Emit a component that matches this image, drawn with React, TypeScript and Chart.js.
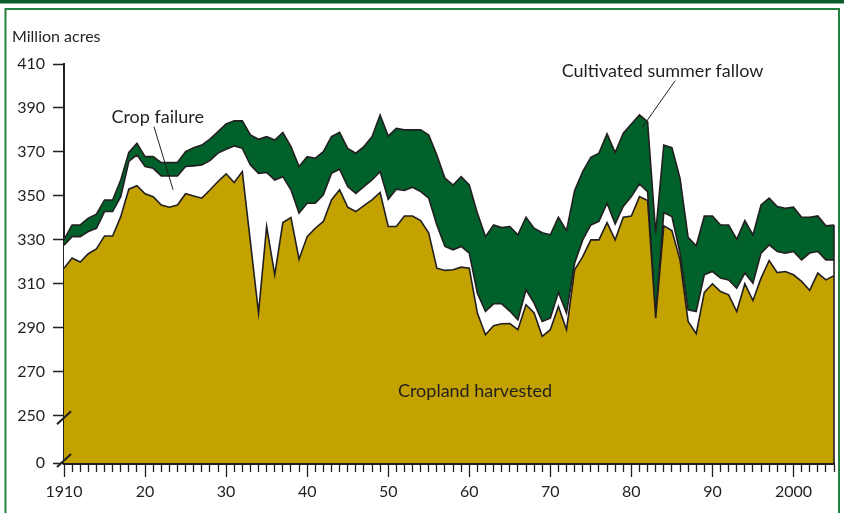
import React, { useEffect, useRef } from 'react';
import { Chart, registerables } from 'chart.js';

Chart.register(...registerables);

// ---- Data -------------------------------------------------------------
const years: number[] = Array.from({ length: 96 }, (_, i) => 1910 + i); // 1910..2005

// Million acres
const harvested = [
  317.0, 321.6, 319.8, 323.6, 325.8, 331.7, 331.7, 340.5, 353.0, 354.6,
  350.9, 349.6, 345.8, 344.8, 345.8, 350.9, 349.9, 348.9, 352.6, 356.5,
  360.0, 356.0, 361.0, 329.0, 296.6, 336.0, 314.0, 337.8, 340.1, 321.1,
  331.4, 335.2, 338.3, 348.1, 352.7, 344.8, 342.8, 345.5, 348.1, 351.5,
  336.0, 336.0, 340.8, 340.8, 338.7, 333.0, 317.0, 316.0, 316.3, 317.5,
  317.0, 296.6, 286.7, 290.8, 291.7, 291.8, 289.0, 300.4, 296.6, 286.0,
  289.0, 299.6, 289.0, 316.3, 322.3, 329.9, 329.9, 337.8, 329.9, 340.2,
  340.8, 349.6, 347.8, 294.3, 336.3, 334.2, 320.8, 292.8, 287.2, 306.0,
  309.9, 306.4, 304.9, 297.3, 309.9, 302.3, 312.5, 320.5, 315.0, 315.5,
  314.0, 311.0, 306.9, 314.8, 311.7, 313.6,
];

const cropFailure = [
  10.5, 9.8, 11.6, 10.1, 9.4, 11.1, 11.1, 9.1, 12.6, 14.0,
  12.4, 12.9, 13.2, 14.2, 13.2, 12.4, 13.7, 15.1, 13.4, 12.9,
  11.2, 16.7, 10.6, 35.0, 63.6, 24.6, 43.2, 20.9, 12.6, 21.0,
  15.2, 11.4, 12.1, 12.1, 9.4, 9.4, 8.3, 8.7, 9.1, 9.5,
  12.4, 17.0, 11.6, 13.1, 13.2, 15.9, 19.7, 10.9, 9.1, 9.4,
  6.9, 9.0, 10.6, 10.0, 9.1, 5.7, 4.5, 6.8, 4.5, 6.8,
  5.3, 6.4, 7.6, 3.0, 7.6, 6.8, 8.4, 8.8, 7.3, 4.9,
  8.8, 5.8, 4.1, 1.2, 6.1, 6.3, 3.1, 5.3, 10.1, 8.0,
  5.6, 6.1, 6.8, 10.6, 4.9, 7.9, 11.4, 7.1, 9.6, 8.4,
  10.6, 9.8, 17.0, 9.8, 9.1, 7.2,
];

const summerFallow = [
  2.5, 5.3, 5.3, 6.1, 6.4, 5.3, 5.3, 7.6, 4.1, 5.3,
  4.5, 5.3, 6.1, 6.1, 6.1, 6.8, 8.3, 9.1, 9.8, 9.8,
  11.5, 11.4, 12.5, 13.7, 15.5, 16.3, 18.2, 20.1, 19.7, 21.2,
  21.2, 20.5, 19.7, 16.7, 16.8, 17.4, 18.3, 18.2, 19.7, 25.8,
  28.8, 27.7, 27.6, 26.1, 28.1, 28.8, 31.9, 31.1, 29.5, 31.8,
  31.0, 36.5, 34.1, 35.9, 34.7, 38.5, 38.7, 33.0, 34.1, 40.4,
  37.9, 34.2, 37.5, 33.1, 31.1, 30.8, 31.1, 31.6, 32.5, 33.4,
  33.1, 31.4, 31.9, 37.5, 30.7, 31.4, 34.1, 33.0, 29.9, 26.8,
  25.3, 24.2, 25.0, 22.3, 23.9, 22.0, 21.9, 21.3, 20.5, 20.4,
  20.2, 19.4, 16.3, 16.2, 15.5, 15.9,
];

// Axis ticks
const Y_BREAK_MIN = 228.3; // position where "0" sits below the axis break
const yTickValues = [250, 270, 290, 310, 330, 350, 370, 390, 410];
const yTickLabels = ['0', '250', '270', '290', '310', '330', '350', '370', '390', '410'];
const xLabelYears = [1910, 1920, 1930, 1940, 1950, 1960, 1970, 1980, 1990, 2000];
const xLabels = ['1910', '20', '30', '40', '50', '60', '70', '80', '90', '2000'];

// ---- Styles -----------------------------------------------------------
const GOLD = '#C3A200';
const GREEN = '#00612A';
const INK = '#231F20';
const FONT = 'Lato, "Open Sans", sans-serif';

const decoPlugin = {
  id: 'deco',
  beforeDraw(chart: any) {
    const { ctx, width, height } = chart;
    ctx.save();
    ctx.fillStyle = '#ffffff';
    ctx.fillRect(0, 0, width, height);
    ctx.fillStyle = '#0B5A2B';
    ctx.fillRect(0, 0, width, 3.5);
    ctx.strokeStyle = '#23803F';
    ctx.lineWidth = 2;
    ctx.beginPath();
    ctx.moveTo(5.5, height + 5);
    ctx.lineTo(5.5, 9);
    ctx.lineTo(839, 9);
    ctx.lineTo(839, height + 5);
    ctx.stroke();
    ctx.restore();
  },
  afterDatasetsDraw(chart: any) {
    const { ctx, scales } = chart;
    const x = scales.x, y = scales.y;
    const last = years.length - 1;
    const top = harvested[last] + cropFailure[last] + summerFallow[last];
    const px = x.getPixelForValue(years[last]);
    ctx.save();
    ctx.strokeStyle = INK;
    ctx.lineWidth = 1.6;
    ctx.beginPath();
    ctx.moveTo(px, y.getPixelForValue(top));
    ctx.lineTo(px, chart.chartArea.bottom);
    ctx.stroke();
    ctx.restore();
  },
  afterDraw(chart: any) {
    const { ctx, scales } = chart;
    const x = scales.x, y = scales.y;
    ctx.save();
    // axis break marks
    ctx.strokeStyle = INK;
    ctx.lineWidth = 2;
    const ax = chart.chartArea.left;
    [y.getPixelForValue(250) + 2.5, y.getPixelForValue(Y_BREAK_MIN) - 2.5].forEach((py: number) => {
      ctx.beginPath();
      ctx.moveTo(ax - 7, py + 6.5);
      ctx.lineTo(ax + 7, py - 6.5);
      ctx.stroke();
    });

    ctx.fillStyle = INK;
    ctx.textBaseline = 'alphabetic';
    ctx.textAlign = 'left';
    ctx.font = `16px ${FONT}`;
    ctx.fillText('Million acres', 12, 41.5);
    ctx.font = `18px ${FONT}`;
    ctx.fillText('Crop failure', x.getPixelForValue(1915.85), y.getPixelForValue(383.2));
    ctx.fillText('Cultivated summer fallow', x.getPixelForValue(1971.4), y.getPixelForValue(404.3));
    ctx.fillText('Cropland harvested', x.getPixelForValue(1951.2), y.getPixelForValue(258.4));

    // leader lines
    ctx.lineWidth = 1;
    ctx.beginPath();
    ctx.moveTo(x.getPixelForValue(1921.1), y.getPixelForValue(381.5));
    ctx.lineTo(x.getPixelForValue(1923.46), y.getPixelForValue(352.7));
    ctx.moveTo(x.getPixelForValue(1985.4), y.getPixelForValue(402.4));
    ctx.lineTo(x.getPixelForValue(1981.36), y.getPixelForValue(381.2));
    ctx.stroke();
    ctx.restore();
  },
};

function series(values: number[]) {
  return years.map((yr, i) => ({ x: yr, y: values[i] }));
}

export default function App() {
  const ref = useRef<HTMLCanvasElement>(null);
  useEffect(() => {
    if (!ref.current) return;
    Chart.defaults.font.family = FONT;
    const common = {
      borderColor: INK,
      borderWidth: 1.6,
      pointRadius: 0,
      pointHoverRadius: 0,
      tension: 0,
      borderJoinStyle: 'miter' as const,
    };
    const chart = new Chart(ref.current, {
      type: 'line',
      data: {
        datasets: [
          { label: 'Cropland harvested', data: series(harvested), fill: 'origin', backgroundColor: GOLD, ...common },
          { label: 'Crop failure', data: series(cropFailure), fill: '-1', backgroundColor: '#ffffff', ...common },
          { label: 'Cultivated summer fallow', data: series(summerFallow), fill: '-1', backgroundColor: GREEN, ...common },
        ],
      },
      options: {
        animation: false,
        responsive: false,
        devicePixelRatio: 1,
        events: [],
        layout: { padding: { left: 0, top: 64, right: 10, bottom: 0 } },
        plugins: { legend: { display: false }, tooltip: { enabled: false }, title: { display: false } },
        scales: {
          x: {
            type: 'linear',
            min: 1910,
            max: 2005,
            z: 1,
            afterBuildTicks: (s: any) => { s.ticks = years.map((v) => ({ value: v })); },
            afterFit: (s: any) => { s.height = 50; },
            ticks: {
              autoSkip: false,
              maxRotation: 0,
              minRotation: 0,
              padding: 5,
              color: INK,
              font: { size: 16, family: FONT },
              callback: (v: any) => {
                const k = xLabelYears.indexOf(Number(v));
                return k >= 0 ? xLabels[k] : '';
              },
            },
            grid: {
              drawOnChartArea: false,
              drawTicks: true,
              tickLength: 14,
              tickColor: INK,
              tickWidth: 1.3,
              tickBorderDash: (c: any) => (xLabelYears.includes(c.tick?.value) ? [] : [7, 30]),
            },
            border: { display: true, color: INK, width: 3 },
          },
          y: {
            type: 'linear',
            stacked: true,
            min: Y_BREAK_MIN,
            max: 410,
            z: 1,
            afterBuildTicks: (s: any) => { s.ticks = [Y_BREAK_MIN, ...yTickValues].map((v) => ({ value: v })); },
            afterFit: (s: any) => { s.width = 64; },
            ticks: {
              autoSkip: false,
              padding: 8,
              color: INK,
              font: { size: 16, family: FONT },
              callback: (_v: any, i: number) => yTickLabels[i],
            },
            grid: {
              drawOnChartArea: false,
              drawTicks: true,
              tickLength: 11,
              tickColor: INK,
              tickWidth: 1.5,
            },
            border: { display: true, color: INK, width: 2 },
          },
        },
      },
      plugins: [decoPlugin],
    } as any);
    return () => chart.destroy();
  }, []);

  return (
    <div style={{ position: 'fixed', left: 0, top: 0, width: 844, height: 513, background: '#fff' }}>
      <canvas ref={ref} width={844} height={513} style={{ display: 'block', width: 844, height: 513 }} />
    </div>
  );
}
